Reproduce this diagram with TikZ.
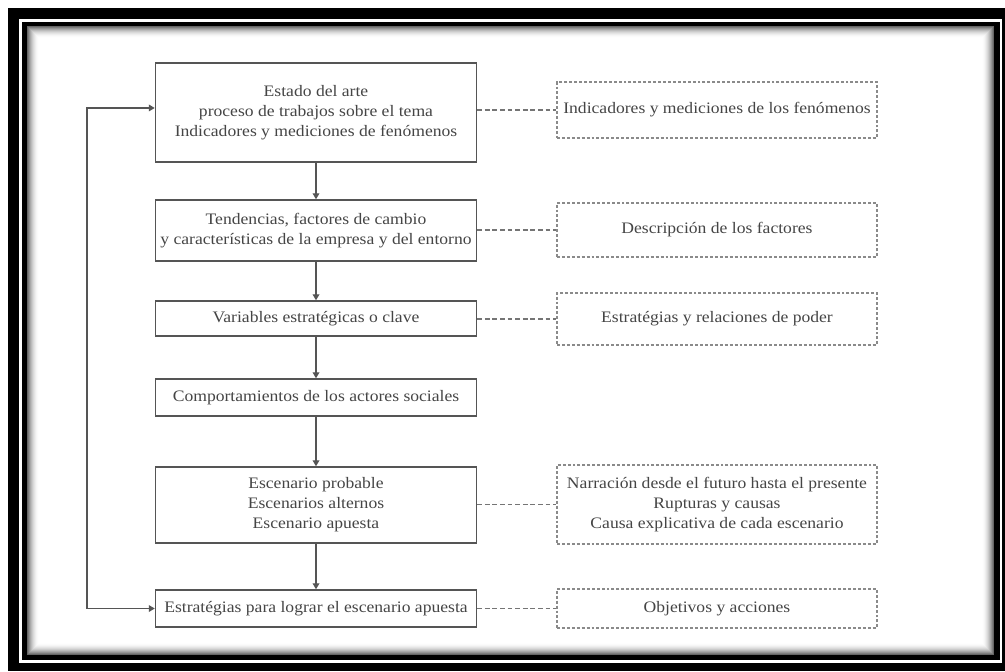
\documentclass[tikz,border=0pt]{standalone}
\usepackage{fontspec}
\setmainfont{Liberation Serif}[FakeStretch=1.1]
\usetikzlibrary{arrows.meta}
\definecolor{txt}{HTML}{454545}
\definecolor{edge}{HTML}{555555}
\definecolor{dash}{HTML}{8A8A8A}
\tikzset{
  stepbox/.style={draw=edge, line width=1.1pt, fill=white, text=txt, align=center,
    minimum width=321*0.75pt, inner sep=0pt, font=\fontsize{12pt}{15pt}\selectfont},
  notebox/.style={draw=dash, line width=1.1pt, dash pattern=on 2.2pt off 1.5pt,
    text=txt, align=center, minimum width=320*0.75pt, inner sep=0pt,
    font=\fontsize{12pt}{15pt}\selectfont},
  flow/.style={draw=edge, line width=1pt, -{Triangle[width=5pt,length=4.5pt]}},
  loopback/.style={draw=edge, line width=1pt,
    {Triangle[width=5pt,length=4.5pt]}-{Triangle[width=5pt,length=4.5pt]}},
  link/.style={draw=dash!85!black, line width=1pt, dash pattern=on 3.5pt off 2.2pt},
}
\begin{document}
\begin{tikzpicture}[x=0.75pt, y=-0.75pt]
\useasboundingbox (0,0) rectangle (1005,671);
% double frame
\fill[white] (0,0) rectangle (1005,671);
\fill[black] (8,8) rectangle (1005,671);
\fill[white] (19,19) rectangle (1002,663);
\fill[black] (22,22) rectangle (1000,660);
\fill[white] (27,26) rectangle (994,655);
% soft inner shadow of the frame
\foreach \i in {0,...,11} {
  \pgfmathsetmacro\sh{60*(1-\i/12)^2}
  \draw[black!\sh, line width=0.8pt] (27.5+\i,26.5+\i) rectangle (993.5-\i,654.5-\i);
}

% process steps
\node[stepbox, minimum height=99*0.75pt] (s1) at (316,112.5)
  {Estado del arte\\proceso de trabajos sobre el tema\\Indicadores y mediciones de fenómenos};
\node[stepbox, minimum height=61*0.75pt] (s2) at (316,230.5)
  {Tendencias, factores de cambio\\y características de la empresa y del entorno};
\node[stepbox, minimum height=35*0.75pt] (s3) at (316,318.5)
  {Variables estratégicas o clave};
\node[stepbox, minimum height=37*0.75pt] (s4) at (316,397.5)
  {Comportamientos de los actores sociales};
\node[stepbox, minimum height=76*0.75pt] (s5) at (316,505)
  {Escenario probable\\Escenarios alternos\\Escenario apuesta};
\node[stepbox, minimum height=37*0.75pt] (s6) at (316,608.5)
  {Estratégias para lograr el escenario apuesta};

% notes
\node[notebox, minimum height=56*0.75pt] (n1) at (717,110)
  {Indicadores y mediciones de los fenómenos};
\node[notebox, minimum height=54*0.75pt] (n2) at (717,230)
  {Descripción de los factores};
\node[notebox, minimum height=52*0.75pt] (n3) at (717,319)
  {Estratégias y relaciones de poder};
\node[notebox, minimum height=79*0.75pt] (n5) at (717,504.5)
  {Narración desde el futuro hasta el presente\\Rupturas y causas\\Causa explicativa de cada escenario};
\node[notebox, minimum height=39*0.75pt] (n6) at (717,608.5)
  {Objetivos y acciones};

% main flow
\draw[flow] (s1) -- (s2);
\draw[flow] (s2) -- (s3);
\draw[flow] (s3) -- (s4);
\draw[flow] (s4) -- (s5);
\draw[flow] (s5) -- (s6);

% feedback loop
\coordinate (lx) at (87,0);
\coordinate (fb) at ([yshift=3.4pt]s1.west);
\draw[loopback] (s6.west) -- (s6.west -| lx) |- (fb);

% links to notes
\draw[link] (s1.east |- n1.west) -- (n1.west);
\draw[link] (s2.east |- n2.west) -- (n2.west);
\draw[link] (s3.east |- n3.west) -- (n3.west);
\draw[link] (s5.east |- n5.west) -- (n5.west);
\draw[link] (s6.east |- n6.west) -- (n6.west);
\end{tikzpicture}
\end{document}
